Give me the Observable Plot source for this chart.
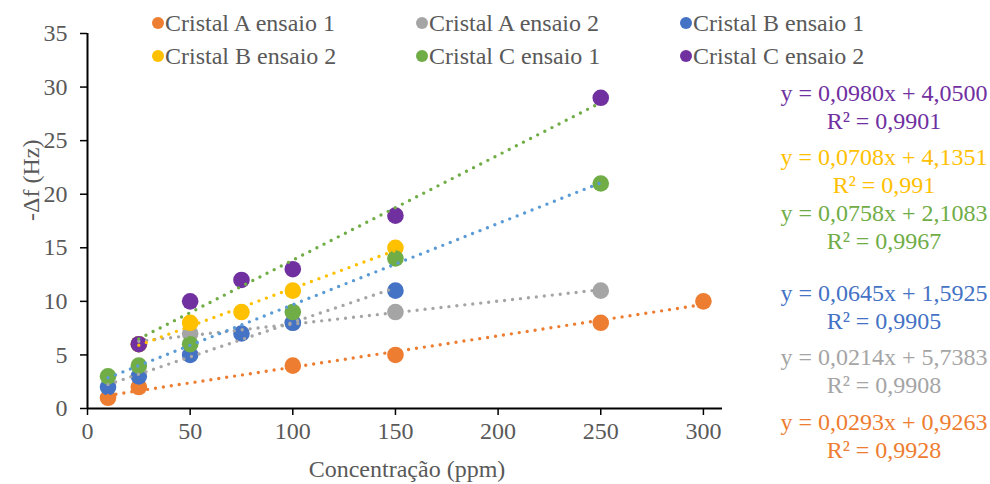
<!DOCTYPE html>
<html>
<head>
<meta charset="utf-8">
<script src="https://cdn.jsdelivr.net/npm/d3@7"></script>
<script src="https://cdn.jsdelivr.net/npm/@observablehq/plot@0.6"></script>
<style>
  html, body { margin: 0; padding: 0; background: #fff; }
  #wrap { position: relative; width: 990px; height: 484px; font-family: "Liberation Serif", "LiberationSerif", "Times New Roman", "Tinos", "DejaVu Serif", serif; color: #595959; }
  #wrap svg { position: absolute; left: 0; top: 0; }
  #wrap svg text { font-family: "Liberation Serif", "LiberationSerif", "Times New Roman", "Tinos", "DejaVu Serif", serif; }
  .leg { position: absolute; font-size: 24px; line-height: 24px; white-space: nowrap; display: flex; align-items: center; }
  .leg .sw { width: 12px; height: 12px; border-radius: 50%; display: inline-block; position: relative; left: -1px; }
  .eq { position: absolute; left: 760px; width: 248px; text-align: center; font-size: 24px; line-height: 28px; white-space: nowrap; }
</style>
</head>
<body>
<div id="wrap"></div>
<script>
// ---- data ----
const seriesNames = ["Cristal A ensaio 1", "Cristal A ensaio 2", "Cristal B ensaio 1", "Cristal B ensaio 2", "Cristal C ensaio 1", "Cristal C ensaio 2"];
const pointColors = ["#ED7D31", "#A5A5A5", "#4472C4", "#FFC000", "#70AD47", "#7030A0"];
const trendColors = ["#ED7D31", "#A5A5A5", "#A5A5A5", "#FFC000", "#5B9BD5", "#70AD47"];

const xA1 = [10, 25, 100, 150, 250, 300];
const yA1 = [1, 2, 4, 5, 8, 10];
const xA2 = [25, 50, 100, 150, 250];
const yA2 = [6, 7, 8, 9, 11];
const xB1 = [10, 25, 50, 75, 100, 150];
const yB1 = [2, 3, 5, 7, 8, 11];
const xB2 = [25, 50, 75, 100, 150];
const yB2 = [6, 8, 9, 11, 15];
const xC1 = [10, 25, 50, 100, 150, 250];
const yC1 = [3, 4, 6, 9, 14, 21];
const xC2 = [25, 50, 75, 100, 150, 250];
const yC2 = [6, 10, 12, 13, 18, 29];

const xTicks = [0, 50, 100, 150, 200, 250, 300];
const yTicks = [0, 5, 10, 15, 20, 25, 30, 35];

// equation labels, top to bottom
const eqLines = ["y = 0,0980x + 4,0500", "y = 0,0708x + 4,1351", "y = 0,0758x + 2,1083", "y = 0,0645x + 1,5925", "y = 0,0214x + 5,7383", "y = 0,0293x + 0,9263"];
const r2Lines = ["R² = 0,9901", "R² = 0,991", "R² = 0,9967", "R² = 0,9905", "R² = 0,9908", "R² = 0,9928"];
const eqColors = ["#7030A0", "#FFC000", "#70AD47", "#4472C4", "#A5A5A5", "#ED7D31"];

// ---- build table ----
const xs = [xA1, xA2, xB1, xB2, xC1, xC2];
const ys = [yA1, yA2, yB1, yB2, yC1, yC2];
const rows = [];
seriesNames.forEach((s, i) => xs[i].forEach((x, j) => rows.push({series: s, x, y: ys[i][j]})));

const FONT = '"Liberation Serif", "LiberationSerif", "Times New Roman", "Tinos", "DejaVu Serif", serif';
const W = 990, H = 484;
const marks = [
  Plot.axisX({ticks: xTicks, tickSize: 7, tickPadding: 6, stroke: "black", strokeWidth: 1.5, fill: "#595959", label: null}),
  Plot.axisY({ticks: yTicks, tickSize: 7, tickPadding: 13, stroke: "black", strokeWidth: 1.5, fill: "#595959", label: null}),
  Plot.ruleY([0], {stroke: "black", strokeWidth: 2}),
  Plot.ruleX([0], {stroke: "black", strokeWidth: 2}),
  Plot.dot(rows, {x: "x", y: "y", fill: "series", r: 8.3, stroke: "none"})
];
seriesNames.forEach((s, i) => {
  marks.push(Plot.linearRegressionY(rows.filter(d => d.series === s), {
    x: "x", y: "y", ci: 0, stroke: trendColors[i], strokeWidth: 3.4,
    strokeDasharray: "0 8", strokeLinecap: "round"
  }));
});
marks.push(Plot.text(["Concentração (ppm)"], {frameAnchor: "bottom", dx: 2, dy: 68, fill: "#595959", fontSize: 24, text: d => d}));
marks.push(Plot.text(["-Δf (Hz)"], {frameAnchor: "left", dx: -56, rotate: -90, fill: "#595959", fontSize: 24, text: d => d}));

const chart = Plot.plot({
  width: W, height: H,
  marginLeft: 87, marginRight: 268, marginTop: 33, marginBottom: 76,
  x: {domain: [0, 309.3]},
  y: {domain: [0, 35]},
  color: {domain: seriesNames, range: pointColors},
  style: {fontFamily: FONT, fontSize: "24px", color: "#595959", background: "white", overflow: "visible"},
  marks
});
const wrap = document.getElementById("wrap");
wrap.appendChild(chart);

// legend
const legX = [153, 417, 681];
const legY = [23, 56];
seriesNames.forEach((s, i) => {
  const d = document.createElement("div");
  d.className = "leg";
  d.style.left = legX[i % 3] + "px";
  d.style.top = (legY[Math.floor(i / 3)] - 12) + "px";
  d.innerHTML = `<span class="sw" style="background:${pointColors[i]}"></span>${s}`;
  wrap.appendChild(d);
});

// equations
const eqY = [93, 157, 213, 293, 357, 422];
eqLines.forEach((t, i) => {
  const d = document.createElement("div");
  d.className = "eq";
  d.style.top = (eqY[i] - 14) + "px";
  d.style.color = eqColors[i];
  d.innerHTML = `${t}<br>${r2Lines[i]}`;
  wrap.appendChild(d);
});
</script>
</body>
</html>
